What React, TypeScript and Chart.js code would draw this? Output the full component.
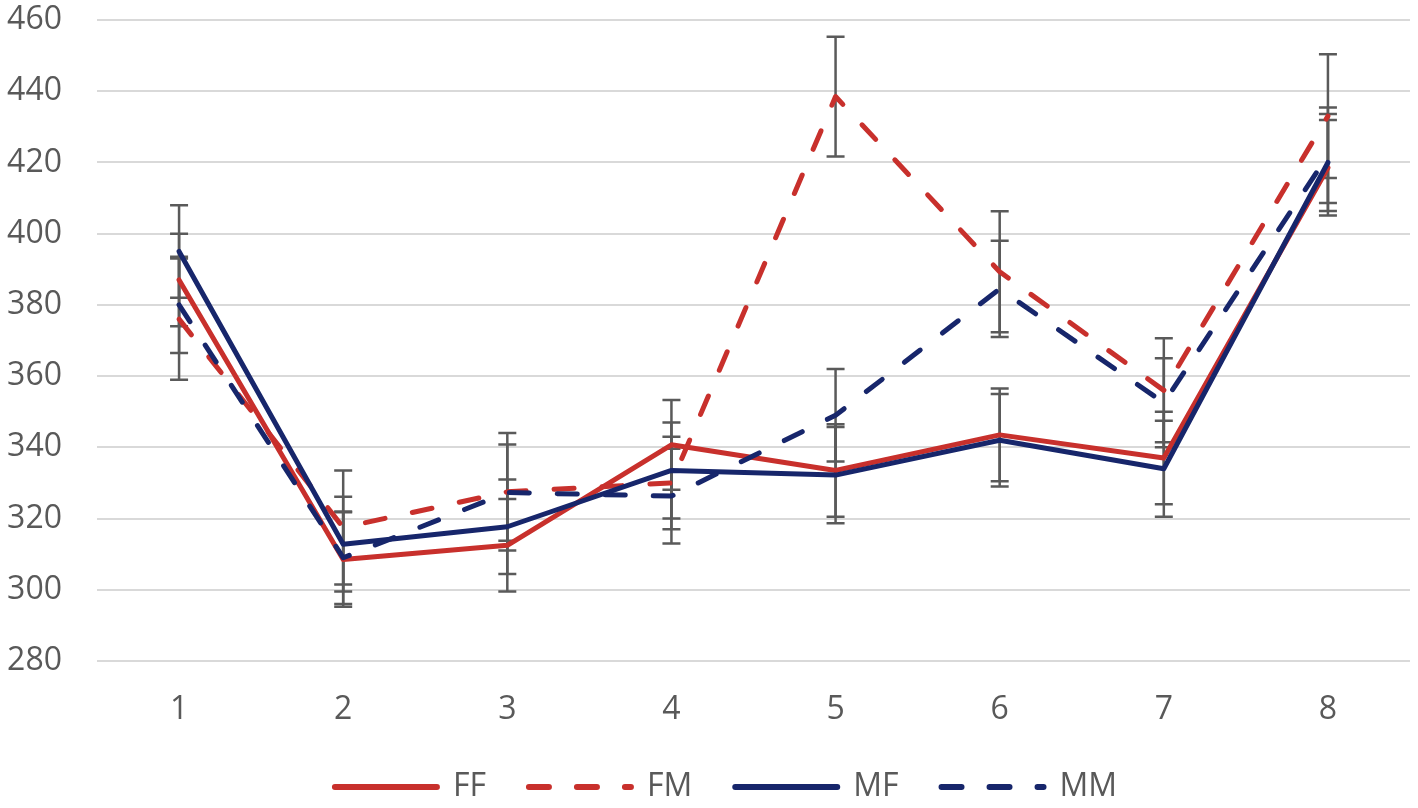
import React, { useEffect, useRef } from 'react';
import Chart from 'chart.js/auto';

const categories = ['1', '2', '3', '4', '5', '6', '7', '8'];

const ffValues = [387, 308.5, 312.5, 340.7, 333.5, 343.5, 337, 418.5];
const fmValues = [376, 317.5, 327.5, 330, 438.5, 389.3, 356, 433];
const mfValues = [395, 312.8, 317.7, 333.5, 332.2, 342, 334, 420];
const mmValues = [380, 309, 327.3, 326.3, 349, 384.5, 352.5, 422];

const ffErrors = [13, 13.3, 13, 12.6, 13, 13, 13, 13.4];
const fmErrors = [17, 16, 16.5, 13, 16.8, 17, 14.6, 17.4];
const mfErrors = [13, 13.3, 13.3, 13.5, 13.5, 13, 13.5, 13.6];
const mmErrors = [13.5, 13, 13.5, 13.3, 13, 13.5, 12.5, 13.4];

const RED = '#C8302C';
const NAVY = '#17266B';
const TEXT = '#595959';

// draws the error bars under the lines, from each dataset's "errors" array
const errorBars = {
  id: 'errorBars',
  beforeDatasetsDraw(chart: any) {
    const ctx = chart.ctx;
    const x = chart.scales.x;
    const y = chart.scales.y;
    ctx.save();
    ctx.strokeStyle = '#5A5A5A';
    ctx.lineWidth = 2.5;
    ctx.setLineDash([]);
    chart.data.datasets.forEach((ds: any) => {
      ds.data.forEach((v: number, i: number) => {
        const e = ds.errors[i];
        const px = x.getPixelForValue(i);
        const top = y.getPixelForValue(v + e);
        const bottom = y.getPixelForValue(v - e);
        ctx.beginPath();
        ctx.moveTo(px, top);
        ctx.lineTo(px, bottom);
        ctx.moveTo(px - 9, top);
        ctx.lineTo(px + 9, top);
        ctx.moveTo(px - 9, bottom);
        ctx.lineTo(px + 9, bottom);
        ctx.stroke();
      });
    });
    ctx.restore();
  },
};

// the original legend sits a little right of centre
const legendShift = {
  id: 'legendShift',
  afterLayout(chart: any) {
    if (chart.legend) {
      chart.legend.left += 21;
      chart.legend.right += 21;
    }
  },
};

export default function App() {
  const canvasRef = useRef<HTMLCanvasElement>(null);

  useEffect(() => {
    document.body.style.margin = '0';
    const canvas = canvasRef.current;
    if (!canvas) return;
    const context = canvas.getContext('2d');
    if (!context) return;

    const line = (label: string, data: number[], errors: number[], color: string, dashed: boolean, order: number) => ({
      label,
      data,
      errors,
      order,
      borderColor: color,
      backgroundColor: color,
      borderWidth: 5,
      borderDash: dashed ? [20, 28] : [],
      borderCapStyle: 'round',
      borderJoinStyle: 'round',
      pointRadius: 0,
      pointHoverRadius: 0,
      tension: 0,
      fill: false,
    });

    const chart = new Chart(context, {
      type: 'line',
      data: {
        labels: categories,
        datasets: [
          line('FF', ffValues, ffErrors, RED, false, 4),
          line('FM', fmValues, fmErrors, RED, true, 3),
          line('MF', mfValues, mfErrors, NAVY, false, 2),
          line('MM', mmValues, mmErrors, NAVY, true, 1),
        ] as any,
      },
      options: {
        animation: false,
        responsive: true,
        maintainAspectRatio: false,
        layout: {
          padding: { top: 20, right: 8, bottom: -5, left: 0 },
        },
        scales: {
          x: {
            offset: true,
            grid: { display: false },
            border: { display: false },
            ticks: {
              color: TEXT,
              padding: 22,
              font: { family: 'Open Sans', size: 32 },
            },
            afterFit: (s: any) => {
              s.height = 67;
            },
          },
          y: {
            min: 280,
            max: 460,
            grid: { color: '#D9D9D9', lineWidth: 2, drawTicks: false },
            border: { display: false },
            ticks: {
              stepSize: 20,
              color: TEXT,
              padding: 35,
              font: { family: 'Open Sans', size: 32 },
            },
            afterFit: (s: any) => {
              s.width = 97;
              s.paddingTop = 0;
              s.paddingBottom = 0;
            },
          },
        },
        plugins: {
          tooltip: { enabled: false },
          legend: {
            position: 'bottom',
            labels: {
              usePointStyle: true,
              pointStyle: 'line',
              pointStyleWidth: 102,
              padding: 43,
              color: TEXT,
              font: { family: 'Open Sans', size: 32 },
              sort: (a: any, b: any) => a.datasetIndex - b.datasetIndex,
              generateLabels: (c: any) =>
                Chart.defaults.plugins.legend.labels.generateLabels(c).map((item: any) => {
                  const ds = c.data.datasets[item.datasetIndex];
                  return {
                    ...item,
                    strokeStyle: ds.borderColor,
                    lineDash: ds.borderDash,
                    lineWidth: 6,
                    lineCap: 'round',
                  };
                }),
            },
          },
        },
      },
      plugins: [errorBars, legendShift],
    });

    return () => {
      chart.destroy();
    };
  }, []);

  return (
    <div style={{ width: 1418, height: 808, position: 'relative' }}>
      <canvas ref={canvasRef} />
    </div>
  );
}
